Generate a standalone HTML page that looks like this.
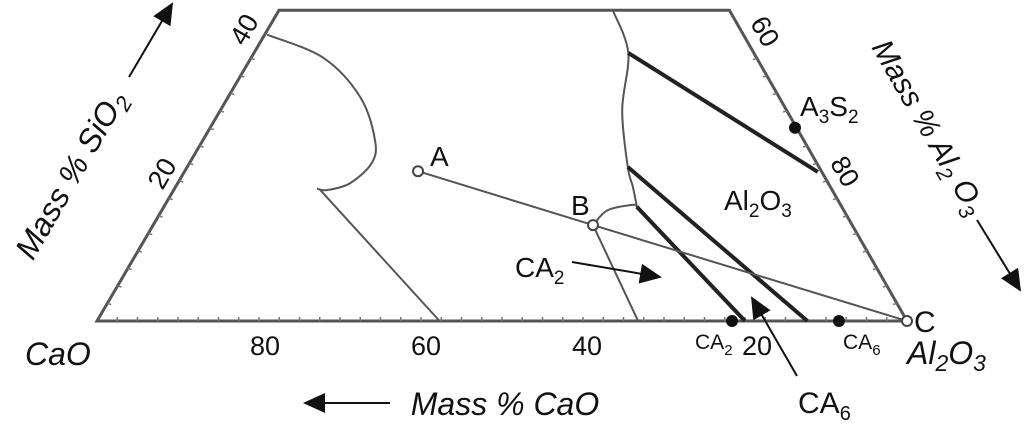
<!DOCTYPE html>
<html><head><meta charset="utf-8">
<style>
html,body{margin:0;padding:0;background:#fff;}
svg{display:block;font-family:"Liberation Sans",Arial,sans-serif;}
</style></head>
<body>
<svg id="chart" width="1024" height="431" viewBox="0 0 1024 431" xmlns="http://www.w3.org/2000/svg">
<defs>
<marker id="ah" markerWidth="22" markerHeight="20" refX="20" refY="10" orient="auto" markerUnits="userSpaceOnUse" viewBox="0 0 22 20"><path d="M0,0 L22,10 L0,20 z" fill="#111"/></marker>
</defs>
<g id="frame"></g>
<g id="ticks"></g>
<g id="curves"></g>
<g id="ties"></g>
<g id="path"></g>
<g id="pts"></g>

<g font-size="27" fill="#111">
<text x="265" y="355" text-anchor="middle">80</text>
<text x="426" y="355" text-anchor="middle">60</text>
<text x="587" y="355" text-anchor="middle">40</text>
<text x="757" y="355" text-anchor="middle">20</text>
<text transform="translate(252,34) rotate(-60)" text-anchor="middle">40</text>
<text transform="translate(170,178) rotate(-60)" text-anchor="middle">20</text>
<text transform="translate(757,36) rotate(60)" text-anchor="middle">60</text>
<text transform="translate(837,176) rotate(60)" text-anchor="middle">80</text>
</g>
<g font-size="32" font-style="italic" fill="#111">
<text transform="translate(80,180) rotate(-60)" text-anchor="middle">Mass % SiO<tspan font-size="22" dy="7">2</tspan></text>
<text font-size="30" transform="translate(920,132) rotate(60)" text-anchor="middle">Mass % Al<tspan font-size="21" dy="7">2</tspan><tspan dy="-7"> O</tspan><tspan font-size="21" dy="7">3</tspan></text>
<text x="505" y="415" text-anchor="middle">Mass % CaO</text>
<text x="25" y="365">CaO</text>
<text x="907" y="364">Al<tspan font-size="23" dy="7">2</tspan><tspan dy="-7">O</tspan><tspan font-size="23" dy="7">3</tspan></text>
</g>
<g stroke="#111" stroke-width="2" fill="none">
<line x1="129" y1="77" x2="172" y2="4" marker-end="url(#ah)"/>
<line x1="977" y1="220" x2="1020" y2="290" marker-end="url(#ah)"/>
<line x1="390" y1="403" x2="305" y2="403" marker-end="url(#ah)"/>
<line x1="572" y1="262" x2="660" y2="277" marker-end="url(#ah)"/>
<line x1="797" y1="376" x2="752" y2="298" marker-end="url(#ah)"/>
</g>
<g font-size="28" fill="#111">
<text x="430" y="166">A</text>
<text x="571" y="215">B</text>
<text x="914" y="332" font-size="30">C</text>
<text x="515" y="277">CA<tspan font-size="19" dy="7">2</tspan></text>
<text x="800" y="116">A<tspan font-size="19" dy="7">3</tspan><tspan dy="-7">S</tspan><tspan font-size="19" dy="7">2</tspan></text>
<text x="724" y="210">Al<tspan font-size="19" dy="7">2</tspan><tspan dy="-7">O</tspan><tspan font-size="19" dy="7">3</tspan></text>
<text x="798" y="413" font-size="30">CA<tspan font-size="20" dy="7">6</tspan></text>
</g>
<g font-size="21" fill="#111">
<text x="695" y="349">CA<tspan font-size="15" dy="6">2</tspan></text>
<text x="843" y="349">CA<tspan font-size="15" dy="6">6</tspan></text>
</g>
</svg>
<script>
// compositions as [Al2O3 %, SiO2 %]
const frameCorners = [[0,0],[0,44.4],[55.6,44.4],[100,0]];
const leftCurve = [[0.3,40.9],[8.9,37.6],[16.3,32],[21.2,25.9],[22.5,22.6],[21.3,19.7],[18.9,18.7],[17.6,18.9]];
const leftLine = [[18.1,18.7],[42.3,0]];
const bLine = [[54.3,13.7],[66.8,0]];
const rightBoundary = [[41.2,44.4],[46.2,38.3],[49.6,30.1],[54.4,22],[56.5,19.1],[58.4,16.3]];
const bubble = [[54.3,13.7],[55.0,15.8],[57.7,16.6],[58.4,16.3]];
const tieLines = [[[46.2,38.3],[78.2,21.3]],[[54.4,22],[87.7,0]],[[58.4,16.3],[80,0]]];
const pathPts = [[28.8,21.4],[54.3,13.7],[100,0]];
const openPts = [[28.8,21.4],[54.3,13.7],[100,0]];
const compoundPts = [[78.4,0],[91.6,0],[72.2,27.6]];
const compoundNames = ['ca2-point','ca6-point','a3s2-point'];

const NS='http://www.w3.org/2000/svg';
function X(al,si){return 97+8.1*al+4.1*si;}
function Y(al,si){return 321-7.0*si;}
function pstr(arr){return arr.map(p=>X(p[0],p[1]).toFixed(1)+','+Y(p[0],p[1]).toFixed(1)).join(' ');}
function smooth(arr){
  const P=arr.map(p=>[X(p[0],p[1]),Y(p[0],p[1])]);
  let d='M'+P[0][0].toFixed(1)+','+P[0][1].toFixed(1);
  for(let i=0;i<P.length-1;i++){
    const p0=P[Math.max(0,i-1)],p1=P[i],p2=P[i+1],p3=P[Math.min(P.length-1,i+2)];
    const c1=[p1[0]+(p2[0]-p0[0])/6,p1[1]+(p2[1]-p0[1])/6];
    const c2=[p2[0]-(p3[0]-p1[0])/6,p2[1]-(p3[1]-p1[1])/6];
    d+=' C'+c1[0].toFixed(1)+','+c1[1].toFixed(1)+' '+c2[0].toFixed(1)+','+c2[1].toFixed(1)+' '+p2[0].toFixed(1)+','+p2[1].toFixed(1);
  }
  return d;
}
function mk(tag,attrs,parent){const e=document.createElementNS(NS,tag);for(const k in attrs)e.setAttribute(k,attrs[k]);parent.appendChild(e);return e;}

const frame=document.getElementById('frame');
let f=mk('polygon',{points:pstr(frameCorners),fill:'none',stroke:'#555','stroke-width':3},frame);



const tg=document.getElementById('ticks');
function tickEdge(a,b,n,dx,dy){
  for(let i=1;i<n;i++){
    const t=i/n, al=a[0]+(b[0]-a[0])*t, si=a[1]+(b[1]-a[1])*t;
    const x=X(al,si), y=Y(al,si);
    const l=mk('line',{x1:x,y1:y,x2:x+dx,y2:y+dy,stroke:'#777','stroke-width':1.5},tg);
    
    
  }
}
tickEdge([0,0],[100,0],40,0,-4);
tickEdge([0,0],[0,40],16,4,1);
tickEdge([100,0],[60,40],16,-4,1);

const cg=document.getElementById('curves');
[[leftCurve,'left-liquidus-curve'],[rightBoundary,'right-liquidus-curve'],[bubble,'b-boundary-loop']].forEach(([d,n])=>{
  const e=mk('path',{d:smooth(d),fill:'none',stroke:'#555','stroke-width':2},cg);
  
  
});
[[leftLine,'left-boundary-line'],[bLine,'b-boundary-line']].forEach(([d,n])=>{
  const e=mk('polyline',{points:pstr(d),fill:'none',stroke:'#555','stroke-width':2},cg);
  
  
});
const tieG=document.getElementById('ties');
tieLines.forEach((d,i)=>{
  const e=mk('polyline',{points:pstr(d),fill:'none',stroke:'#222','stroke-width':4},tieG);
  
  
});
const pg=document.getElementById('path');
const pl=mk('polyline',{points:pstr(pathPts),fill:'none',stroke:'#555','stroke-width':2},pg);



const ptg=document.getElementById('pts');
compoundPts.forEach((p,i)=>{
  const c=mk('circle',{cx:X(p[0],p[1]),cy:Y(p[0],p[1]),r:6,fill:'#111'},ptg);
  
  
});
['point-a','point-b','point-c'].forEach((n,i)=>{
  const p=openPts[i];
  const c=mk('circle',{cx:X(p[0],p[1]),cy:Y(p[0],p[1]),r:5,fill:'#fff',stroke:'#444','stroke-width':2},ptg);
  
  
});
</script>
</body></html>
